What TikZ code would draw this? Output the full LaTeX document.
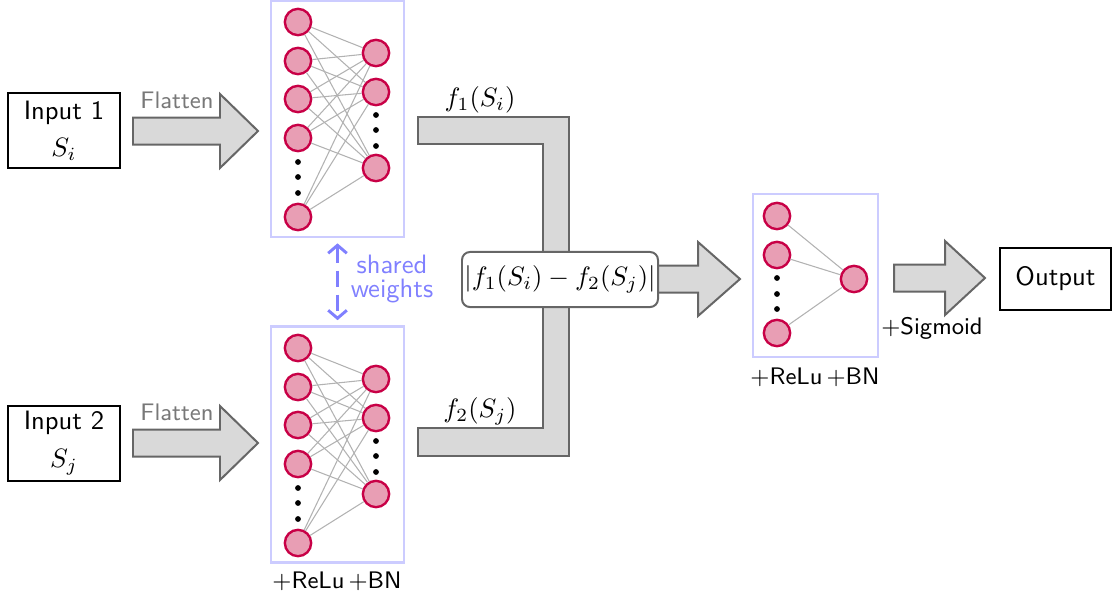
\documentclass[tikz,border=0pt]{standalone}
\usepackage{fontspec}
\usetikzlibrary{arrows.meta}
\definecolor{neufill}{RGB}{232,158,180}
\definecolor{neudraw}{RGB}{200,0,70}
\definecolor{nnbox}{RGB}{204,204,255}
\definecolor{arrfill}{RGB}{217,217,217}
\definecolor{arrdraw}{RGB}{102,102,102}
\definecolor{shared}{RGB}{128,128,255}
\definecolor{flat}{RGB}{120,120,120}
\newcommand\bigarr[4]{% x0, xhead, xtip, ycenter
  \draw[bigarrow] (#1,#4-13.5) -- (#2,#4-13.5) -- (#2,#4-37) -- (#3,#4) -- (#2,#4+37) -- (#2,#4+13.5) -- (#1,#4+13.5) -- cycle;}
\tikzset{
  every node/.style={font=\sffamily},
  neuron/.style={circle, fill=neufill, draw=neudraw, line width=0.9pt, minimum size=9.9pt, inner sep=0pt},
  nnframe/.style={draw=nnbox, line width=0.8pt, inner sep=0pt},
  inbox/.style={draw=black, line width=0.75pt, inner sep=0pt, align=center},
  bigarrow/.style={fill=arrfill, draw=arrdraw, line width=0.75pt},
  conn/.style={draw=black!30, line width=0.4pt},
  dotc/.style={fill=black},
}
\begin{document}
\begin{tikzpicture}[x=0.376pt, y=-0.376pt]
\useasboundingbox (0,0) rectangle (1112,601);

% input boxes
\node[inbox, minimum width=42.1pt, minimum height=28.2pt] (in1) at (64,130.5) {Input 1\\[2pt]$S_i$};
\node[inbox, minimum width=42.1pt, minimum height=28.2pt] (in2) at (64,443) {Input 2\\[2pt]$S_j$};

% flatten arrows
\bigarr{133}{220}{258}{131}
\bigarr{133}{220}{258}{443}
\node[font=\sffamily\small, text=flat] (fl1) at (177,100) {Flatten};
\node[font=\sffamily\small, text=flat] (fl2) at (177,412) {Flatten};

% NN frames
\node[nnframe, minimum width=50pt, minimum height=88.7pt] (nn1) at (337.5,119) {};
\node[nnframe, minimum width=50pt, minimum height=88.7pt] (nn2) at (337.5,444.5) {};
\node[font=\sffamily\small] (lab2) at (337,581) {$+$ReLu\,$+$BN};

% neurons
\foreach \k/\off in {a/0, b/326}{
  \foreach \i/\y in {1/22, 2/61, 3/99, 4/138, 5/217}
    \node[neuron] (\k i\i) at (298,\y+\off) {};
  \foreach \j/\y in {1/53, 2/92, 3/168}
    \node[neuron] (\k o\j) at (376,\y+\off) {};
  \foreach \i in {1,...,5}
    \foreach \j in {1,2,3}
      \draw[conn] (\k i\i) -- (\k o\j);
  \foreach \y in {162,177,193}
    \fill[dotc] (298,\y+\off) circle (2.9);
  \foreach \y in {115,130,146}
    \fill[dotc] (376,\y+\off) circle (2.9);
}

% shared weights
\draw[shared, line width=1.1pt, dash pattern=on 6pt off 3pt, {Straight Barb[length=3pt,width=7pt]}-{Straight Barb[length=3pt,width=7pt]}, shorten <=2pt, shorten >=2pt] (nn1.south) -- (nn2.north);
\node[text=shared, align=center] (sw) at (392,279) {shared\\[-2.8pt]weights};

% bracket
\draw[bigarrow] (418,117) -- (569,117) -- (569,456) -- (418,456) -- (418,428) -- (543,428) -- (543,144) -- (418,144) -- cycle;
\node (f1) at (480,100) {$f_1(S_i)$};
\node (f2) at (480,411) {$f_2(S_j)$};

% arrow from diff
\bigarr{640}{698}{740}{279}
\node[draw=arrdraw, fill=white, line width=0.75pt, rounded corners=3pt, minimum width=73.7pt, minimum height=20.7pt, inner sep=0pt] (diff) at (560,279.5) {$|f_1(S_i)-f_2(S_j)|$};

% small NN
\node[nnframe, minimum width=47pt, minimum height=61.3pt] (nn3) at (815.5,275.5) {};
\foreach \i/\y in {1/216, 2/255, 3/333}
  \node[neuron] (ci\i) at (777,\y) {};
\node[neuron] (co) at (854,279) {};
\foreach \i in {1,2,3}
  \draw[conn] (ci\i) -- (co);
\foreach \y in {278,294,309}
  \fill[dotc] (777,\y) circle (2.9);
\node[font=\sffamily\small] (lab3) at (815,377) {$+$ReLu\,$+$BN};

% final arrow
\bigarr{894}{945}{985}{278}
\node[font=\sffamily\small] (sig) at (932,328) {$+$Sigmoid};
\node[inbox, minimum width=41.7pt, minimum height=23.3pt] (out) at (1055.5,279) {Output};
\end{tikzpicture}
\end{document}
